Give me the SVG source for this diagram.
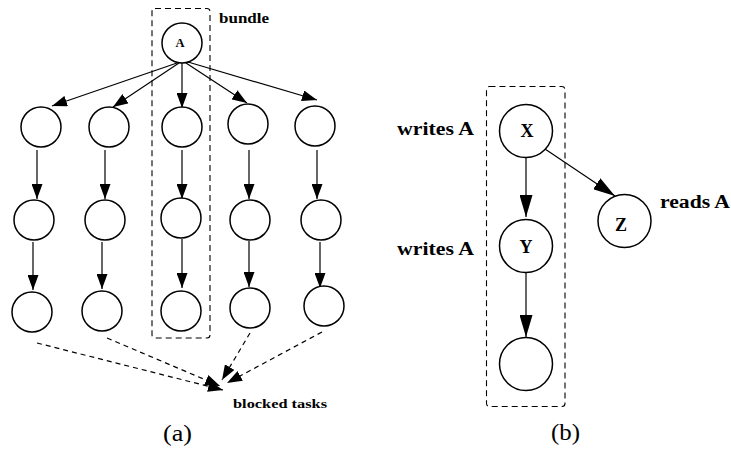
<svg xmlns="http://www.w3.org/2000/svg" width="731" height="449" viewBox="0 0 731 449">
  <style>
    .node { fill: #fff; stroke: #000; stroke-width: 1.5; }
    .edge { fill: none; stroke: #000; stroke-width: 1.2; }
    .dash { fill: none; stroke: #000; stroke-width: 1.2; stroke-dasharray: 5 4; }
    .bundle { fill: none; stroke: #000; stroke-width: 1.1; stroke-dasharray: 6 4; }
    .lbl { font-family: "Liberation Serif", "Times New Roman", serif; font-weight: bold; fill: #000; }
    .cap { font-family: "Liberation Serif", "Times New Roman", serif; fill: #000; font-size: 23px; }
  </style>
  <defs>
    <marker id="head" markerUnits="userSpaceOnUse" markerWidth="16" markerHeight="11" refX="15" refY="5.5" orient="auto">
      <path d="M0,0 L15,5.5 L0,11 z" fill="#000"/>
    </marker>
    <marker id="headB" markerUnits="userSpaceOnUse" markerWidth="23" markerHeight="13" refX="22" refY="6.5" orient="auto">
      <path d="M0,0 L22,6.5 L0,13 z" fill="#000"/>
    </marker>
  </defs>

  <!-- (a) bundle frame -->
  <rect class="bundle" x="152" y="8.5" width="58" height="329.5" rx="3"/>
  <text class="lbl" x="219" y="23" font-size="14" textLength="50" lengthAdjust="spacingAndGlyphs">bundle</text>

  <!-- (b) bundle frame -->
  <rect class="bundle" x="486.5" y="86.5" width="78.5" height="320" rx="3"/>

  <g id="connectors">
    <!-- (a) fan-out from A -->
    <line class="edge" x1="177" y1="63" x2="52" y2="106" marker-end="url(#head)"/>
    <line class="edge" x1="179" y1="63" x2="113" y2="107" marker-end="url(#head)"/>
    <line class="edge" x1="182" y1="63" x2="182" y2="108" marker-end="url(#head)"/>
    <line class="edge" x1="186" y1="63" x2="247" y2="103" marker-end="url(#head)"/>
    <line class="edge" x1="188" y1="62" x2="317" y2="100" marker-end="url(#head)"/>
    <!-- (a) row 1 to row 2 -->
    <line class="edge" x1="37" y1="150" x2="37" y2="199" marker-end="url(#head)"/>
    <line class="edge" x1="105" y1="150" x2="105" y2="199" marker-end="url(#head)"/>
    <line class="edge" x1="182" y1="150" x2="182" y2="199" marker-end="url(#head)"/>
    <line class="edge" x1="249" y1="150" x2="249" y2="199" marker-end="url(#head)"/>
    <line class="edge" x1="317" y1="150" x2="317" y2="199" marker-end="url(#head)"/>
    <!-- (a) row 2 to row 3 -->
    <line class="edge" x1="33" y1="242" x2="33" y2="290" marker-end="url(#head)"/>
    <line class="edge" x1="102" y1="242" x2="102" y2="289" marker-end="url(#head)"/>
    <line class="edge" x1="182" y1="239" x2="182" y2="288" marker-end="url(#head)"/>
    <line class="edge" x1="249" y1="241" x2="249" y2="287" marker-end="url(#head)"/>
    <line class="edge" x1="320" y1="242" x2="320" y2="288" marker-end="url(#head)"/>
    <!-- (a) blocked tasks -->
    <line class="dash" x1="37" y1="343" x2="223" y2="390" marker-end="url(#head)"/>
    <line class="dash" x1="107" y1="338" x2="220" y2="386" marker-end="url(#head)"/>
    <line class="dash" x1="250" y1="333" x2="222" y2="380" marker-end="url(#head)"/>
    <line class="dash" x1="322" y1="332" x2="227" y2="383" marker-end="url(#head)"/>
    <!-- (b) -->
    <line class="edge" x1="526" y1="157" x2="526" y2="217" marker-end="url(#headB)"/>
    <line class="edge" x1="526" y1="272" x2="526" y2="337" marker-end="url(#headB)"/>
    <line class="edge" x1="545" y1="149" x2="615" y2="196" marker-end="url(#headB)"/>
  </g>

  <!-- (a) nodes -->
  <g id="nodeA"><circle class="node" cx="182" cy="43" r="20"/>
    <text class="lbl" x="180" y="47" font-size="12.5" text-anchor="middle">A</text></g>
  <g id="a11"><circle class="node" cx="41" cy="127" r="20"/></g>
  <g id="a12"><circle class="node" cx="109" cy="127" r="20"/></g>
  <g id="a13"><circle class="node" cx="182" cy="127" r="20"/></g>
  <g id="a14"><circle class="node" cx="248" cy="124" r="20"/></g>
  <g id="a15"><circle class="node" cx="315" cy="126" r="20"/></g>
  <g id="a21"><circle class="node" cx="34" cy="220" r="20"/></g>
  <g id="a22"><circle class="node" cx="105" cy="220" r="20"/></g>
  <g id="a23"><circle class="node" cx="181" cy="218" r="20"/></g>
  <g id="a24"><circle class="node" cx="250" cy="220" r="20"/></g>
  <g id="a25"><circle class="node" cx="321" cy="220" r="20"/></g>
  <g id="a31"><circle class="node" cx="32" cy="312" r="20"/></g>
  <g id="a32"><circle class="node" cx="102" cy="311" r="20"/></g>
  <g id="a33"><circle class="node" cx="181" cy="311" r="20"/></g>
  <g id="a34"><circle class="node" cx="250" cy="308" r="20"/></g>
  <g id="a35"><circle class="node" cx="324" cy="306" r="20"/></g>
  <text class="lbl" x="233" y="408" font-size="13.5" textLength="94" lengthAdjust="spacingAndGlyphs">blocked tasks</text>
  <text class="cap" x="163" y="441" textLength="29" lengthAdjust="spacingAndGlyphs">(a)</text>

  <!-- (b) nodes -->
  <g id="nodeX"><circle class="node" cx="526" cy="131" r="26.5"/>
    <text class="lbl" x="527" y="137" font-size="18" text-anchor="middle">X</text></g>
  <g id="nodeY"><circle class="node" cx="526" cy="246" r="26.5"/>
    <text class="lbl" x="526" y="253" font-size="18" text-anchor="middle">Y</text></g>
  <g id="nodeB3"><circle class="node" cx="526" cy="364" r="26.5"/></g>
  <g id="nodeZ"><circle class="node" cx="624.5" cy="221" r="26.5"/>
    <text class="lbl" x="621" y="231" font-size="18" text-anchor="middle">Z</text></g>
  <text class="lbl" x="397" y="135" font-size="18.5" textLength="77" lengthAdjust="spacingAndGlyphs">writes A</text>
  <text class="lbl" x="397" y="255" font-size="18.5" textLength="77" lengthAdjust="spacingAndGlyphs">writes A</text>
  <text class="lbl" x="660" y="208" font-size="18.5" textLength="70" lengthAdjust="spacingAndGlyphs">reads A</text>
  <text class="cap" x="551" y="440" textLength="29" lengthAdjust="spacingAndGlyphs">(b)</text>
</svg>
